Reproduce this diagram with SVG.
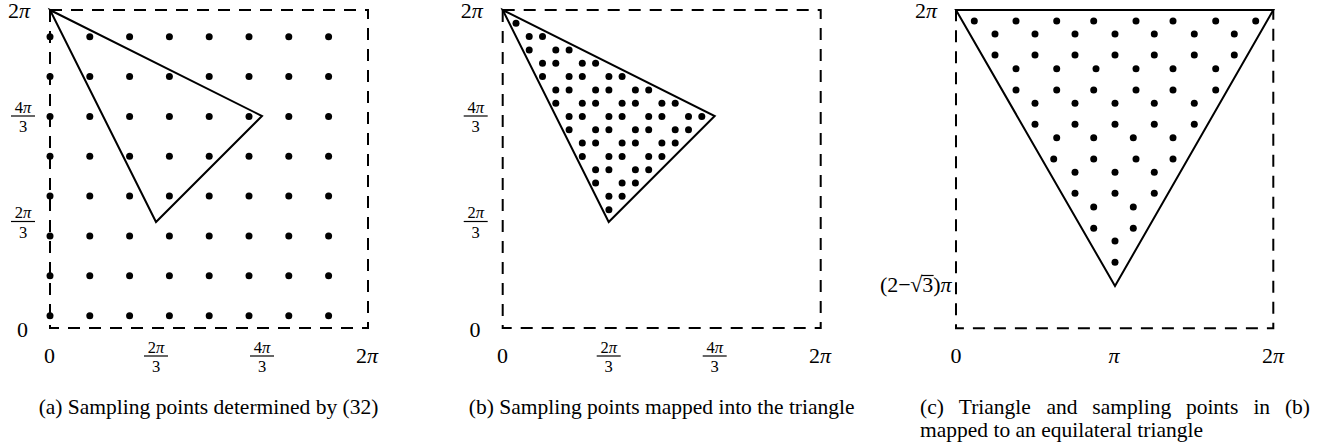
<svg xmlns="http://www.w3.org/2000/svg" xmlns:xlink="http://www.w3.org/1999/xlink" width="1330" height="444" viewBox="0 0 1330 444">
<style>
.box{fill:none;stroke:#000;stroke-width:2;stroke-dasharray:12 9}
.tri{fill:none;stroke:#000;stroke-width:2;stroke-linejoin:miter}
.fl{stroke:#000;stroke-width:1.2}
text{font-family:"Liberation Serif","Times New Roman",serif;fill:#000}
.tk{font-size:22px}
.fr{font-size:16.5px;text-anchor:middle}
.mid{text-anchor:middle}
.cap{font-size:21.5px}
.pi{font-style:italic}
</style>
<defs>
<circle id="dot" r="3.5" fill="#000"/>
<g id="rowA">
<use href="#dot" x="50"/><use href="#dot" x="89.8"/><use href="#dot" x="129.6"/><use href="#dot" x="169.4"/><use href="#dot" x="209.2"/><use href="#dot" x="249"/><use href="#dot" x="288.8"/><use href="#dot" x="328.6"/>
</g>
</defs>
<rect width="1330" height="444" fill="#fff"/>

<!-- Panel (a) -->
<g id="panel-a">
<rect class="box" x="50" y="10" width="318" height="318"/>
<g id="dots-a">
<use href="#rowA" y="36.7"/><use href="#rowA" y="76.55"/><use href="#rowA" y="116.4"/><use href="#rowA" y="156.25"/><use href="#rowA" y="196.1"/><use href="#rowA" y="235.95"/><use href="#rowA" y="275.8"/><use href="#rowA" y="315.65"/>
</g>
<polygon class="tri" points="50,10 262,116 156,222"/>
<text class="tk" x="8" y="18">2<tspan class="pi">π</tspan></text>
<text class="tk mid" x="22.5" y="337">0</text>
<text class="fr" x="23" y="112.5">4<tspan class="pi">π</tspan></text><line class="fl" x1="11" y1="116" x2="35" y2="116"/><text class="fr" x="23" y="131.5">3</text>
<text class="fr" x="23" y="218">2<tspan class="pi">π</tspan></text><line class="fl" x1="11" y1="221.5" x2="35" y2="221.5"/><text class="fr" x="23" y="237.5">3</text>
<text class="tk mid" x="49.5" y="363">0</text>
<text class="fr" x="156" y="352.5">2<tspan class="pi">π</tspan></text><line class="fl" x1="144" y1="356" x2="168" y2="356"/><text class="fr" x="156" y="372">3</text>
<text class="fr" x="262" y="352.5">4<tspan class="pi">π</tspan></text><line class="fl" x1="250" y1="356" x2="274" y2="356"/><text class="fr" x="262" y="372">3</text>
<text class="tk mid" x="367" y="363">2<tspan class="pi">π</tspan></text>
<text class="cap mid" x="208.5" y="414">(a) Sampling points determined by (32)</text>
</g>

<!-- Panel (b) -->
<g id="panel-b">
<rect class="box" x="502.7" y="10" width="318" height="318"/>
<polygon class="tri" points="502.7,10 714.7,116 608.7,222"/>
<g id="dots-b">
<use href="#dot" x="516" y="23.3"/>
<use href="#dot" x="529.2" y="36.6"/><use href="#dot" x="542.5" y="36.6"/>
<use href="#dot" x="529.2" y="49.9"/><use href="#dot" x="555.8" y="49.9"/><use href="#dot" x="569.1" y="49.9"/>
<use href="#dot" x="542.5" y="63.2"/><use href="#dot" x="555.8" y="63.2"/><use href="#dot" x="582.3" y="63.2"/><use href="#dot" x="595.6" y="63.2"/>
<use href="#dot" x="542.5" y="76.6"/><use href="#dot" x="569.1" y="76.6"/><use href="#dot" x="582.3" y="76.6"/><use href="#dot" x="608.9" y="76.6"/><use href="#dot" x="622.1" y="76.6"/>
<use href="#dot" x="555.8" y="89.9"/><use href="#dot" x="569.1" y="89.9"/><use href="#dot" x="595.6" y="89.9"/><use href="#dot" x="608.9" y="89.9"/><use href="#dot" x="635.4" y="89.9"/><use href="#dot" x="648.7" y="89.9"/>
<use href="#dot" x="555.8" y="103.2"/><use href="#dot" x="582.3" y="103.2"/><use href="#dot" x="595.6" y="103.2"/><use href="#dot" x="622.1" y="103.2"/><use href="#dot" x="635.4" y="103.2"/><use href="#dot" x="661.9" y="103.2"/><use href="#dot" x="675.2" y="103.2"/>
<use href="#dot" x="569.1" y="116.5"/><use href="#dot" x="582.3" y="116.5"/><use href="#dot" x="608.9" y="116.5"/><use href="#dot" x="622.1" y="116.5"/><use href="#dot" x="648.7" y="116.5"/><use href="#dot" x="661.9" y="116.5"/><use href="#dot" x="688.5" y="116.5"/><use href="#dot" x="701.8" y="116.5"/>
<use href="#dot" x="569.1" y="129.8"/><use href="#dot" x="595.6" y="129.8"/><use href="#dot" x="608.9" y="129.8"/><use href="#dot" x="635.4" y="129.8"/><use href="#dot" x="648.7" y="129.8"/><use href="#dot" x="675.2" y="129.8"/><use href="#dot" x="688.5" y="129.8"/>
<use href="#dot" x="582.3" y="143.1"/><use href="#dot" x="595.6" y="143.1"/><use href="#dot" x="622.1" y="143.1"/><use href="#dot" x="635.4" y="143.1"/><use href="#dot" x="661.9" y="143.1"/><use href="#dot" x="675.2" y="143.1"/>
<use href="#dot" x="582.3" y="156.4"/><use href="#dot" x="608.9" y="156.4"/><use href="#dot" x="622.1" y="156.4"/><use href="#dot" x="648.7" y="156.4"/><use href="#dot" x="661.9" y="156.4"/>
<use href="#dot" x="595.6" y="169.7"/><use href="#dot" x="608.9" y="169.7"/><use href="#dot" x="635.4" y="169.7"/><use href="#dot" x="648.7" y="169.7"/>
<use href="#dot" x="595.6" y="183"/><use href="#dot" x="622.1" y="183"/><use href="#dot" x="635.4" y="183"/>
<use href="#dot" x="608.9" y="196.3"/><use href="#dot" x="622.1" y="196.3"/>
<use href="#dot" x="608.9" y="209.7"/>
</g>
<text class="tk" x="460.7" y="18">2<tspan class="pi">π</tspan></text>
<text class="tk mid" x="475" y="337">0</text>
<text class="fr" x="475.7" y="112.5">4<tspan class="pi">π</tspan></text><line class="fl" x1="463.7" y1="116" x2="487.7" y2="116"/><text class="fr" x="475.7" y="131.5">3</text>
<text class="fr" x="475.7" y="218">2<tspan class="pi">π</tspan></text><line class="fl" x1="463.7" y1="221.5" x2="487.7" y2="221.5"/><text class="fr" x="475.7" y="237.5">3</text>
<text class="tk mid" x="502.5" y="363">0</text>
<text class="fr" x="608.7" y="352.5">2<tspan class="pi">π</tspan></text><line class="fl" x1="596.7" y1="356" x2="620.7" y2="356"/><text class="fr" x="608.7" y="372">3</text>
<text class="fr" x="714.7" y="352.5">4<tspan class="pi">π</tspan></text><line class="fl" x1="702.7" y1="356" x2="726.7" y2="356"/><text class="fr" x="714.7" y="372">3</text>
<text class="tk mid" x="820" y="363">2<tspan class="pi">π</tspan></text>
<text class="cap mid" x="661.7" y="414">(b) Sampling points mapped into the triangle</text>
</g>

<!-- Panel (c) -->
<g id="panel-c">
<rect class="box" x="956" y="10" width="317.3" height="318.3"/>
<polygon class="tri" points="956,10 1273.3,10 1115,286"/>
<g id="dots-c">
<use href="#dot" x="974.3" y="21"/><use href="#dot" x="1016" y="21"/><use href="#dot" x="1056.7" y="21"/><use href="#dot" x="1093.7" y="21"/><use href="#dot" x="1136" y="21"/><use href="#dot" x="1173" y="21"/><use href="#dot" x="1215.7" y="21"/><use href="#dot" x="1255.7" y="21"/>
<use href="#dot" x="995" y="34"/><use href="#dot" x="1035" y="34"/><use href="#dot" x="1075" y="34"/><use href="#dot" x="1115" y="34"/><use href="#dot" x="1154.3" y="34"/><use href="#dot" x="1194.3" y="34"/><use href="#dot" x="1234.3" y="34"/>
<use href="#dot" x="995" y="55"/><use href="#dot" x="1035" y="55"/><use href="#dot" x="1075" y="55"/><use href="#dot" x="1115" y="55"/><use href="#dot" x="1154.3" y="55"/><use href="#dot" x="1194.3" y="55"/><use href="#dot" x="1234.3" y="55"/>
<use href="#dot" x="1016" y="68.7"/><use href="#dot" x="1056.7" y="68.7"/><use href="#dot" x="1096" y="68.7"/><use href="#dot" x="1136" y="68.7"/><use href="#dot" x="1173" y="68.7"/><use href="#dot" x="1215.7" y="68.7"/>
<use href="#dot" x="1016" y="90"/><use href="#dot" x="1056.7" y="90"/><use href="#dot" x="1093.7" y="90"/><use href="#dot" x="1136" y="90"/><use href="#dot" x="1173" y="90"/><use href="#dot" x="1215.7" y="90"/>
<use href="#dot" x="1035" y="103.3"/><use href="#dot" x="1075" y="103.3"/><use href="#dot" x="1115" y="103.3"/><use href="#dot" x="1154.3" y="103.3"/><use href="#dot" x="1194.3" y="103.3"/>
<use href="#dot" x="1035" y="124.3"/><use href="#dot" x="1075" y="124.3"/><use href="#dot" x="1115" y="124.3"/><use href="#dot" x="1154.3" y="124.3"/><use href="#dot" x="1194.3" y="124.3"/>
<use href="#dot" x="1056.7" y="137.7"/><use href="#dot" x="1093.7" y="137.7"/><use href="#dot" x="1133.3" y="137.7"/><use href="#dot" x="1173" y="137.7"/>
<use href="#dot" x="1053.7" y="159"/><use href="#dot" x="1093.7" y="159"/><use href="#dot" x="1136" y="159"/><use href="#dot" x="1173" y="159"/>
<use href="#dot" x="1075" y="172.3"/><use href="#dot" x="1115" y="172.3"/><use href="#dot" x="1154.3" y="172.3"/>
<use href="#dot" x="1075" y="193.3"/><use href="#dot" x="1115" y="193.3"/><use href="#dot" x="1154.3" y="193.3"/>
<use href="#dot" x="1093.7" y="207"/><use href="#dot" x="1133.3" y="207"/>
<use href="#dot" x="1093.7" y="228.3"/><use href="#dot" x="1133.3" y="228.3"/>
<use href="#dot" x="1115" y="241"/>
<use href="#dot" x="1115" y="262.3"/>
</g>
<text class="tk" x="915" y="18">2<tspan class="pi">π</tspan></text>
<text class="tk"><tspan x="880" y="292">(2−</tspan><tspan x="910.3" y="292">√</tspan><tspan x="922.3" y="292">3</tspan><tspan x="933.3" y="292">)</tspan><tspan class="pi" x="940.6" y="292">π</tspan></text>
<line class="fl" x1="921.5" y1="275.5" x2="933.6" y2="275.5"/>
<text class="tk mid" x="956" y="363">0</text>
<text class="tk mid pi" x="1114" y="363">π</text>
<text class="tk mid" x="1273" y="363">2<tspan class="pi">π</tspan></text>
<text class="cap" y="414"><tspan x="920">(c)</tspan><tspan x="958.8">Triangle</tspan><tspan x="1046.4">and</tspan><tspan x="1092.3">sampling</tspan><tspan x="1185.9">points</tspan><tspan x="1253.4">in</tspan><tspan x="1284.9">(b)</tspan></text>
<text class="cap" x="920" y="437">mapped to an equilateral triangle</text>
</g>
</svg>
